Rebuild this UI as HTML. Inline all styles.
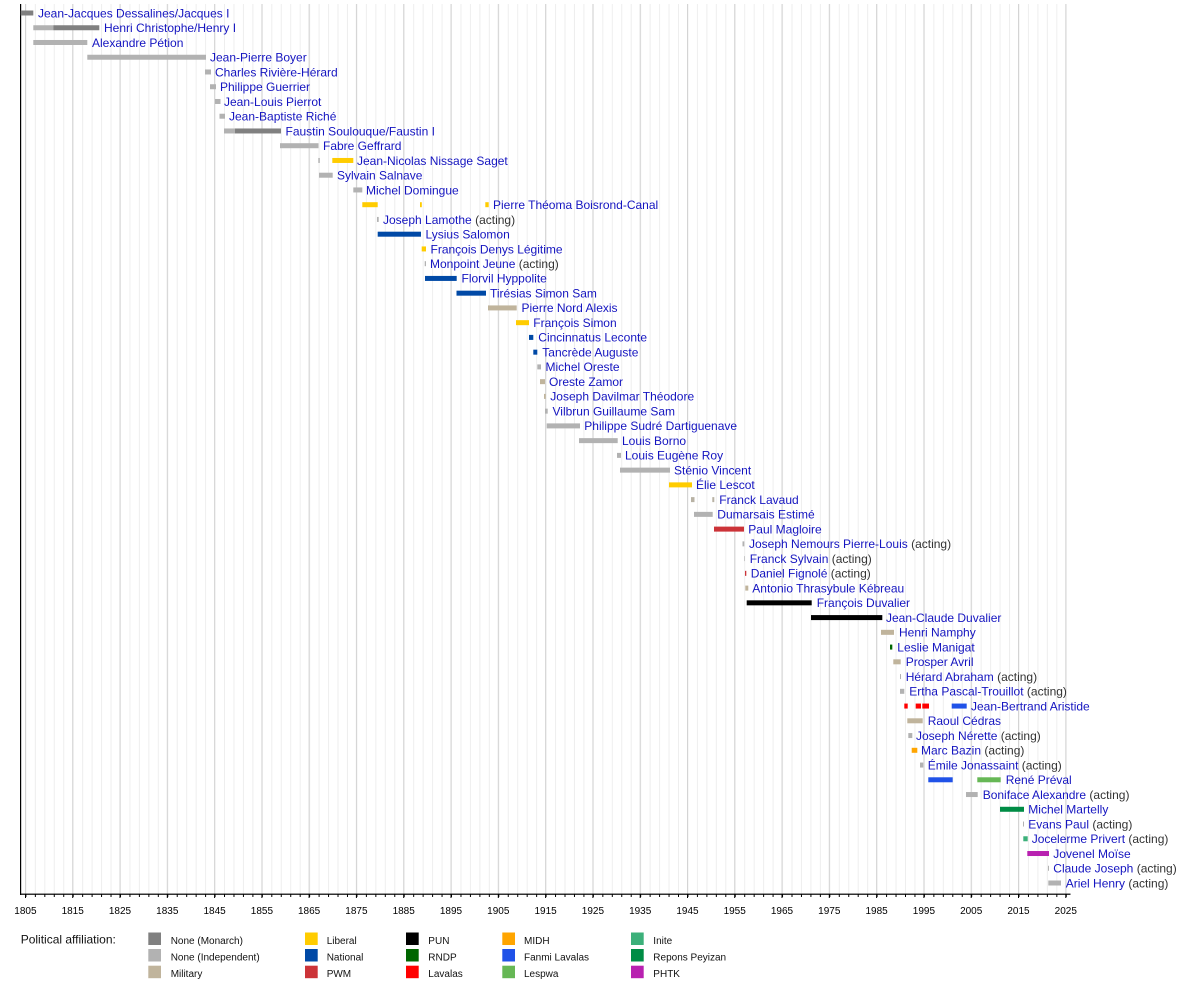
<!DOCTYPE html>
<html>
<head>
<meta charset="utf-8">
<style>
  html, body { margin: 0; padding: 0; background: #ffffff; }
  body { width: 1200px; height: 985px; overflow: hidden; }
  svg { display: block; font-family: "Liberation Sans", "DejaVu Sans", sans-serif; }
  .n { fill: #1414c0; font-size: 12px; }
  .a { fill: #333333; }
  .tick { fill: #000; font-size: 10px; text-anchor: middle; }
  .lg { fill: #111; font-size: 10px; }
</style>
</head>
<body>
<svg width="1200" height="985" viewBox="0 0 1200 985" xmlns="http://www.w3.org/2000/svg">
  <defs>
    <pattern id="minor" x="25.4" y="0" width="9.458" height="1000" patternUnits="userSpaceOnUse">
      <rect x="0" y="0" width="1" height="1000" fill="#eeeeee"/>
    </pattern>
    <pattern id="minortick" x="25.4" y="0" width="9.458" height="1000" patternUnits="userSpaceOnUse">
      <rect x="0" y="0" width="1" height="1000" fill="#000"/>
    </pattern>
  </defs>

  <!-- minor gridlines -->
  <rect x="25" y="4" width="1042" height="890" fill="url(#minor)"/>
  <!-- major gridlines -->
  <g fill="#d4d4d4">
    <rect x="25" y="4" width="1" height="890"/>
    <rect x="72.2" y="4" width="1" height="890"/>
    <rect x="119.5" y="4" width="1" height="890"/>
    <rect x="166.8" y="4" width="1" height="890"/>
    <rect x="214.1" y="4" width="1" height="890"/>
    <rect x="261.4" y="4" width="1" height="890"/>
    <rect x="308.6" y="4" width="1" height="890"/>
    <rect x="355.9" y="4" width="1" height="890"/>
    <rect x="403.2" y="4" width="1" height="890"/>
    <rect x="450.5" y="4" width="1" height="890"/>
    <rect x="497.8" y="4" width="1" height="890"/>
    <rect x="545.1" y="4" width="1" height="890"/>
    <rect x="592.4" y="4" width="1" height="890"/>
    <rect x="639.7" y="4" width="1" height="890"/>
    <rect x="687" y="4" width="1" height="890"/>
    <rect x="734.2" y="4" width="1" height="890"/>
    <rect x="781.5" y="4" width="1" height="890"/>
    <rect x="828.8" y="4" width="1" height="890"/>
    <rect x="876.1" y="4" width="1" height="890"/>
    <rect x="923.4" y="4" width="1" height="890"/>
    <rect x="970.7" y="4" width="1" height="890"/>
    <rect x="1018" y="4" width="1" height="890"/>
    <rect x="1065.3" y="4" width="1" height="890"/>
  </g>

  <!-- axes -->
  <rect x="20" y="4" width="1.2" height="891" fill="#000"/>
  <rect x="20" y="893.6" width="1050.5" height="1.2" fill="#000"/>
  <!-- minor ticks -->
  <rect x="25" y="894" width="1042" height="3" fill="url(#minortick)"/>
  <!-- major ticks -->
  <g fill="#000">
    <rect x="25" y="894" width="1" height="4"/>
    <rect x="72.2" y="894" width="1" height="4"/>
    <rect x="119.5" y="894" width="1" height="4"/>
    <rect x="166.8" y="894" width="1" height="4"/>
    <rect x="214.1" y="894" width="1" height="4"/>
    <rect x="261.4" y="894" width="1" height="4"/>
    <rect x="308.6" y="894" width="1" height="4"/>
    <rect x="355.9" y="894" width="1" height="4"/>
    <rect x="403.2" y="894" width="1" height="4"/>
    <rect x="450.5" y="894" width="1" height="4"/>
    <rect x="497.8" y="894" width="1" height="4"/>
    <rect x="545.1" y="894" width="1" height="4"/>
    <rect x="592.4" y="894" width="1" height="4"/>
    <rect x="639.7" y="894" width="1" height="4"/>
    <rect x="687" y="894" width="1" height="4"/>
    <rect x="734.2" y="894" width="1" height="4"/>
    <rect x="781.5" y="894" width="1" height="4"/>
    <rect x="828.8" y="894" width="1" height="4"/>
    <rect x="876.1" y="894" width="1" height="4"/>
    <rect x="923.4" y="894" width="1" height="4"/>
    <rect x="970.7" y="894" width="1" height="4"/>
    <rect x="1018" y="894" width="1" height="4"/>
    <rect x="1065.3" y="894" width="1" height="4"/>
  </g>

  <!-- tick labels -->
  <g class="tick">
    <text x="25.4" y="914">1805</text>
    <text x="72.7" y="914">1815</text>
    <text x="120" y="914">1825</text>
    <text x="167.3" y="914">1835</text>
    <text x="214.6" y="914">1845</text>
    <text x="261.9" y="914">1855</text>
    <text x="309.1" y="914">1865</text>
    <text x="356.4" y="914">1875</text>
    <text x="403.7" y="914">1885</text>
    <text x="451" y="914">1895</text>
    <text x="498.3" y="914">1905</text>
    <text x="545.6" y="914">1915</text>
    <text x="592.9" y="914">1925</text>
    <text x="640.2" y="914">1935</text>
    <text x="687.5" y="914">1945</text>
    <text x="734.7" y="914">1955</text>
    <text x="782" y="914">1965</text>
    <text x="829.3" y="914">1975</text>
    <text x="876.6" y="914">1985</text>
    <text x="923.9" y="914">1995</text>
    <text x="971.2" y="914">2005</text>
    <text x="1018.5" y="914">2015</text>
    <text x="1065.8" y="914">2025</text>
  </g>

  <!-- rows -->
  <g transform="translate(0,13)"><rect x="20.7" y="-2.5" width="12.6" height="5" fill="#808080"/><text class="n" x="38" y="4.3">Jean-Jacques Dessalines/Jacques I</text></g>
  <g transform="translate(0,27.75)"><rect x="33.3" y="-2.5" width="20" height="5" fill="#b2b2b2"/><rect x="53.3" y="-2.5" width="46" height="5" fill="#808080"/><text class="n" x="104" y="4.3">Henri Christophe/Henry I</text></g>
  <g transform="translate(0,42.49)"><rect x="33.3" y="-2.5" width="54" height="5" fill="#b2b2b2"/><text class="n" x="92" y="4.3">Alexandre Pétion</text></g>
  <g transform="translate(0,57.24)"><rect x="87.3" y="-2.5" width="118.7" height="5" fill="#b2b2b2"/><text class="n" x="210" y="4.3">Jean-Pierre Boyer</text></g>
  <g transform="translate(0,71.98)"><rect x="205" y="-2.5" width="6" height="5" fill="#b2b2b2"/><text class="n" x="215" y="4.3">Charles Rivière-Hérard</text></g>
  <g transform="translate(0,86.73)"><rect x="210" y="-2.5" width="6" height="5" fill="#b2b2b2"/><text class="n" x="220" y="4.3">Philippe Guerrier</text></g>
  <g transform="translate(0,101.48)"><rect x="215" y="-2.5" width="5.5" height="5" fill="#b2b2b2"/><text class="n" x="224" y="4.3">Jean-Louis Pierrot</text></g>
  <g transform="translate(0,116.22)"><rect x="219.5" y="-2.5" width="5.5" height="5" fill="#b2b2b2"/><text class="n" x="229" y="4.3">Jean-Baptiste Riché</text></g>
  <g transform="translate(0,130.97)"><rect x="224" y="-2.5" width="11" height="5" fill="#b2b2b2"/><rect x="235" y="-2.5" width="46" height="5" fill="#808080"/><text class="n" x="285.5" y="4.3">Faustin Soulouque/Faustin I</text></g>
  <g transform="translate(0,145.71)"><rect x="280" y="-2.5" width="38.5" height="5" fill="#b2b2b2"/><text class="n" x="323" y="4.3">Fabre Geffrard</text></g>
  <g transform="translate(0,160.46)"><rect x="318.3" y="-2.5" width="1.5" height="5" fill="#b2b2b2"/><rect x="332.3" y="-2.5" width="21" height="5" fill="#ffcc00"/><text class="n" x="357" y="4.3">Jean-Nicolas Nissage Saget</text></g>
  <g transform="translate(0,175.21)"><rect x="319" y="-2.5" width="13.7" height="5" fill="#b2b2b2"/><text class="n" x="337" y="4.3">Sylvain Salnave</text></g>
  <g transform="translate(0,189.95)"><rect x="353.3" y="-2.5" width="9" height="5" fill="#b2b2b2"/><text class="n" x="366" y="4.3">Michel Domingue</text></g>
  <g transform="translate(0,204.7)"><rect x="362.3" y="-2.5" width="15.4" height="5" fill="#ffcc00"/><rect x="420" y="-2.5" width="1.8" height="5" fill="#ffcc00"/><rect x="485.3" y="-2.5" width="3.4" height="5" fill="#ffcc00"/><text class="n" x="493" y="4.3">Pierre Théoma Boisrond-Canal</text></g>
  <g transform="translate(0,219.44)"><rect x="377" y="-2.5" width="1.7" height="5" fill="#b2b2b2"/><text class="n" x="383" y="4.3">Joseph Lamothe<tspan class="a"> (acting)</tspan></text></g>
  <g transform="translate(0,234.19)"><rect x="377.7" y="-2.5" width="43.3" height="5" fill="#0049a6"/><text class="n" x="425.5" y="4.3">Lysius Salomon</text></g>
  <g transform="translate(0,248.94)"><rect x="421.7" y="-2.5" width="4.3" height="5" fill="#ffcc00"/><text class="n" x="430.5" y="4.3">François Denys Légitime</text></g>
  <g transform="translate(0,263.68)"><rect x="424.7" y="-2.5" width="1.3" height="5" fill="#b2b2b2"/><text class="n" x="430" y="4.3">Monpoint Jeune<tspan class="a"> (acting)</tspan></text></g>
  <g transform="translate(0,278.43)"><rect x="425" y="-2.5" width="31.7" height="5" fill="#0049a6"/><text class="n" x="461.5" y="4.3">Florvil Hyppolite</text></g>
  <g transform="translate(0,293.17)"><rect x="456.5" y="-2.5" width="29.5" height="5" fill="#0049a6"/><text class="n" x="490" y="4.3">Tirésias Simon Sam</text></g>
  <g transform="translate(0,307.92)"><rect x="488" y="-2.5" width="28.7" height="5" fill="#c0b49c"/><text class="n" x="521.5" y="4.3">Pierre Nord Alexis</text></g>
  <g transform="translate(0,322.67)"><rect x="516" y="-2.5" width="13" height="5" fill="#ffcc00"/><text class="n" x="533.3" y="4.3">François Simon</text></g>
  <g transform="translate(0,337.41)"><rect x="529" y="-2.5" width="4.3" height="5" fill="#0049a6"/><text class="n" x="538.3" y="4.3">Cincinnatus Leconte</text></g>
  <g transform="translate(0,352.16)"><rect x="533.3" y="-2.5" width="4" height="5" fill="#0049a6"/><text class="n" x="542.3" y="4.3">Tancrède Auguste</text></g>
  <g transform="translate(0,366.9)"><rect x="537.3" y="-2.5" width="3.7" height="5" fill="#b2b2b2"/><text class="n" x="545.5" y="4.3">Michel Oreste</text></g>
  <g transform="translate(0,381.65)"><rect x="540" y="-2.5" width="5" height="5" fill="#c0b49c"/><text class="n" x="549" y="4.3">Oreste Zamor</text></g>
  <g transform="translate(0,396.4)"><rect x="544" y="-2.5" width="1.7" height="5" fill="#c0b49c"/><text class="n" x="550.3" y="4.3">Joseph Davilmar Théodore</text></g>
  <g transform="translate(0,411.14)"><rect x="545" y="-2.5" width="2.7" height="5" fill="#b2b2b2"/><text class="n" x="552.5" y="4.3">Vilbrun Guillaume Sam</text></g>
  <g transform="translate(0,425.89)"><rect x="546.7" y="-2.5" width="33.3" height="5" fill="#b2b2b2"/><text class="n" x="584.3" y="4.3">Philippe Sudré Dartiguenave</text></g>
  <g transform="translate(0,440.63)"><rect x="579" y="-2.5" width="38.7" height="5" fill="#b2b2b2"/><text class="n" x="622" y="4.3">Louis Borno</text></g>
  <g transform="translate(0,455.38)"><rect x="617" y="-2.5" width="4" height="5" fill="#b2b2b2"/><text class="n" x="625" y="4.3">Louis Eugène Roy</text></g>
  <g transform="translate(0,470.13)"><rect x="620" y="-2.5" width="50" height="5" fill="#b2b2b2"/><text class="n" x="674" y="4.3">Sténio Vincent</text></g>
  <g transform="translate(0,484.87)"><rect x="669" y="-2.5" width="23" height="5" fill="#ffcc00"/><text class="n" x="696" y="4.3">Élie Lescot</text></g>
  <g transform="translate(0,499.62)"><rect x="691" y="-2.5" width="3.5" height="5" fill="#b8b2a4"/><rect x="712.3" y="-2.5" width="2" height="5" fill="#b8b2a4"/><text class="n" x="719.3" y="4.3">Franck Lavaud</text></g>
  <g transform="translate(0,514.36)"><rect x="694" y="-2.5" width="18.7" height="5" fill="#b2b2b2"/><text class="n" x="717.3" y="4.3">Dumarsais Estimé</text></g>
  <g transform="translate(0,529.11)"><rect x="714" y="-2.5" width="30" height="5" fill="#cc3338"/><text class="n" x="748.3" y="4.3">Paul Magloire</text></g>
  <g transform="translate(0,543.86)"><rect x="742.5" y="-2.5" width="1.8" height="5" fill="#b2b2b2"/><text class="n" x="749" y="4.3">Joseph Nemours Pierre-Louis<tspan class="a"> (acting)</tspan></text></g>
  <g transform="translate(0,558.6)"><rect x="744" y="-2.5" width="1" height="5" fill="#c8c8c8"/><text class="n" x="749.7" y="4.3">Franck Sylvain<tspan class="a"> (acting)</tspan></text></g>
  <g transform="translate(0,573.35)"><rect x="745" y="-2.5" width="1.3" height="5" fill="#cc3338"/><text class="n" x="750.7" y="4.3">Daniel Fignolé<tspan class="a"> (acting)</tspan></text></g>
  <g transform="translate(0,588.09)"><rect x="745.3" y="-2.5" width="3" height="5" fill="#c0b49c"/><text class="n" x="752.3" y="4.3">Antonio Thrasybule Kébreau</text></g>
  <g transform="translate(0,602.84)"><rect x="746.7" y="-2.5" width="65" height="5" fill="#000000"/><text class="n" x="816.7" y="4.3">François Duvalier</text></g>
  <g transform="translate(0,617.59)"><rect x="811" y="-2.5" width="71.3" height="5" fill="#000000"/><text class="n" x="886" y="4.3">Jean-Claude Duvalier</text></g>
  <g transform="translate(0,632.33)"><rect x="881" y="-2.5" width="13" height="5" fill="#c0b49c"/><text class="n" x="899" y="4.3">Henri Namphy</text></g>
  <g transform="translate(0,647.08)"><rect x="890" y="-2.5" width="2.3" height="5" fill="#006600"/><text class="n" x="897.3" y="4.3">Leslie Manigat</text></g>
  <g transform="translate(0,661.82)"><rect x="893.3" y="-2.5" width="7.4" height="5" fill="#c0b49c"/><text class="n" x="905.7" y="4.3">Prosper Avril</text></g>
  <g transform="translate(0,676.57)"><rect x="900" y="-2.5" width="1" height="5" fill="#b2b2b2"/><text class="n" x="905.7" y="4.3">Hérard Abraham<tspan class="a"> (acting)</tspan></text></g>
  <g transform="translate(0,691.32)"><rect x="900" y="-2.5" width="4.3" height="5" fill="#b2b2b2"/><text class="n" x="909.3" y="4.3">Ertha Pascal-Trouillot<tspan class="a"> (acting)</tspan></text></g>
  <g transform="translate(0,706.06)"><rect x="904.3" y="-2.5" width="3.4" height="5" fill="#ff0000"/><rect x="915.7" y="-2.5" width="5.3" height="5" fill="#ff0000"/><rect x="922.3" y="-2.5" width="6.7" height="5" fill="#ff0000"/><rect x="951.7" y="-2.5" width="15" height="5" fill="#2052e8"/><text class="n" x="971" y="4.3">Jean-Bertrand Aristide</text></g>
  <g transform="translate(0,720.81)"><rect x="907.3" y="-2.5" width="15.4" height="5" fill="#c0b49c"/><text class="n" x="927.7" y="4.3">Raoul Cédras</text></g>
  <g transform="translate(0,735.55)"><rect x="908.3" y="-2.5" width="4" height="5" fill="#b2b2b2"/><text class="n" x="916" y="4.3">Joseph Nérette<tspan class="a"> (acting)</tspan></text></g>
  <g transform="translate(0,750.3)"><rect x="911.7" y="-2.5" width="5.6" height="5" fill="#ffa500"/><text class="n" x="921" y="4.3">Marc Bazin<tspan class="a"> (acting)</tspan></text></g>
  <g transform="translate(0,765.05)"><rect x="920" y="-2.5" width="3.3" height="5" fill="#b2b2b2"/><text class="n" x="927.7" y="4.3">Émile Jonassaint<tspan class="a"> (acting)</tspan></text></g>
  <g transform="translate(0,779.79)"><rect x="928.3" y="-2.5" width="24.4" height="5" fill="#2052e8"/><rect x="977.3" y="-2.5" width="23.4" height="5" fill="#66b755"/><text class="n" x="1005.7" y="4.3">René Préval</text></g>
  <g transform="translate(0,794.54)"><rect x="966" y="-2.5" width="11.7" height="5" fill="#b2b2b2"/><text class="n" x="982.7" y="4.3">Boniface Alexandre<tspan class="a"> (acting)</tspan></text></g>
  <g transform="translate(0,809.28)"><rect x="1000" y="-2.5" width="24" height="5" fill="#008c45"/><text class="n" x="1028.3" y="4.3">Michel Martelly</text></g>
  <g transform="translate(0,824.03)"><rect x="1023" y="-2.5" width="1" height="5" fill="#b2b2b2"/><text class="n" x="1028.3" y="4.3">Evans Paul<tspan class="a"> (acting)</tspan></text></g>
  <g transform="translate(0,838.78)"><rect x="1023.3" y="-2.5" width="4.4" height="5" fill="#3cb07a"/><text class="n" x="1031.7" y="4.3">Jocelerme Privert<tspan class="a"> (acting)</tspan></text></g>
  <g transform="translate(0,853.52)"><rect x="1027.3" y="-2.5" width="21.7" height="5" fill="#b821b0"/><text class="n" x="1053.3" y="4.3">Jovenel Moïse</text></g>
  <g transform="translate(0,868.27)"><rect x="1048" y="-2.5" width="1" height="5" fill="#b2b2b2"/><text class="n" x="1053.3" y="4.3">Claude Joseph<tspan class="a"> (acting)</tspan></text></g>
  <g transform="translate(0,883.01)"><rect x="1048.3" y="-2.5" width="12.7" height="5" fill="#b2b2b2"/><text class="n" x="1065.7" y="4.3">Ariel Henry<tspan class="a"> (acting)</tspan></text></g>

  <!-- legend -->
  <text x="20.7" y="943.5" font-size="12" fill="#111">Political affiliation:</text>
  <g>
    <rect x="148.3" y="932.5" width="12.7" height="12.5" fill="#808080"/>
    <rect x="148.3" y="949" width="12.7" height="12.5" fill="#b2b2b2"/>
    <rect x="148.3" y="965.7" width="12.7" height="12.5" fill="#c0b49c"/>
    <text class="lg" x="170.7" y="944">None (Monarch)</text>
    <text class="lg" x="170.7" y="960.5">None (Independent)</text>
    <text class="lg" x="170.7" y="977">Military</text>

    <rect x="305" y="932.5" width="12.7" height="12.5" fill="#ffcc00"/>
    <rect x="305" y="949" width="12.7" height="12.5" fill="#0049a6"/>
    <rect x="305" y="965.7" width="12.7" height="12.5" fill="#cc3338"/>
    <text class="lg" x="326.7" y="944">Liberal</text>
    <text class="lg" x="326.7" y="960.5">National</text>
    <text class="lg" x="326.7" y="977">PWM</text>

    <rect x="406" y="932.5" width="12.7" height="12.5" fill="#000000"/>
    <rect x="406" y="949" width="12.7" height="12.5" fill="#006600"/>
    <rect x="406" y="965.7" width="12.7" height="12.5" fill="#ff0000"/>
    <text class="lg" x="428.3" y="944">PUN</text>
    <text class="lg" x="428.3" y="960.5">RNDP</text>
    <text class="lg" x="428.3" y="977">Lavalas</text>

    <rect x="502.3" y="932.5" width="12.7" height="12.5" fill="#ffa500"/>
    <rect x="502.3" y="949" width="12.7" height="12.5" fill="#2052e8"/>
    <rect x="502.3" y="965.7" width="12.7" height="12.5" fill="#66b755"/>
    <text class="lg" x="524" y="944">MIDH</text>
    <text class="lg" x="524" y="960.5">Fanmi Lavalas</text>
    <text class="lg" x="524" y="977">Lespwa</text>

    <rect x="631" y="932.5" width="12.7" height="12.5" fill="#3cb07a"/>
    <rect x="631" y="949" width="12.7" height="12.5" fill="#008c45"/>
    <rect x="631" y="965.7" width="12.7" height="12.5" fill="#b821b0"/>
    <text class="lg" x="653.3" y="944">Inite</text>
    <text class="lg" x="653.3" y="960.5">Repons Peyizan</text>
    <text class="lg" x="653.3" y="977">PHTK</text>
  </g>
</svg>
</body>
</html>
